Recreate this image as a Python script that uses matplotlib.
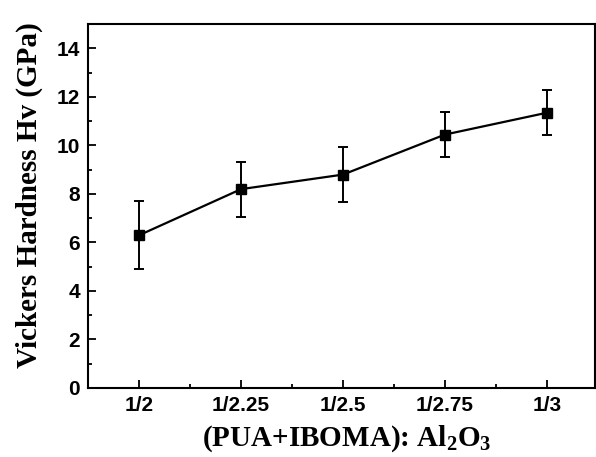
import matplotlib
matplotlib.use("Agg")
import matplotlib.pyplot as plt
from matplotlib.ticker import MultipleLocator

ratios = ["1/2", "1/2.25", "1/2.5", "1/2.75", "1/3"]
hardness = [6.3, 8.2, 8.8, 10.45, 11.35]
hardness_err = [1.4, 1.13, 1.13, 0.93, 0.93]

plt.rcParams['mathtext.fontset'] = 'custom'
plt.rcParams['mathtext.bf'] = 'Liberation Serif:bold'
plt.rcParams['mathtext.rm'] = 'Liberation Serif:bold'
plt.rcParams['mathtext.default'] = 'bf'

fig = plt.figure(figsize=(5.96, 4.57), dpi=100)
ax = fig.add_axes([0.148, 0.151, 0.85, 0.796])

x = list(range(len(ratios)))
ax.errorbar(x, hardness, yerr=hardness_err, color='black', lw=1.6,
            marker='s', markersize=7, capsize=3.5, elinewidth=1.4, capthick=1.4)

ax.set_xlim(-0.5, 4.47)
ax.set_ylim(0, 15)
ax.set_xticks(x)
ax.set_xticklabels(ratios)
ax.xaxis.set_minor_locator(MultipleLocator(0.5))
ax.yaxis.set_major_locator(MultipleLocator(2))
ax.yaxis.set_minor_locator(MultipleLocator(1))
ax.tick_params(which='both', direction='in', width=1.3)
ax.tick_params(which='major', length=6, pad=6)
ax.tick_params(which='minor', length=3)
for lab in ax.get_xticklabels() + ax.get_yticklabels():
    lab.set_fontfamily('Liberation Sans')
    lab.set_fontweight('bold')
    lab.set_fontsize(15)
for s in ax.spines.values():
    s.set_linewidth(1.5)

ax.set_ylabel('Vickers Hardness Hv (GPa)', family='Liberation Serif',
              fontweight='bold', fontsize=21)
ax.set_xlabel('(PUA+IBOMA): Al$_2$O$_3$', family='Liberation Serif',
              fontweight='bold', fontsize=21)
ax.yaxis.set_label_coords(-0.09, 0.53)
ax.xaxis.set_label_coords(0.51, -0.097)

fig.savefig('out.png', dpi=100)
